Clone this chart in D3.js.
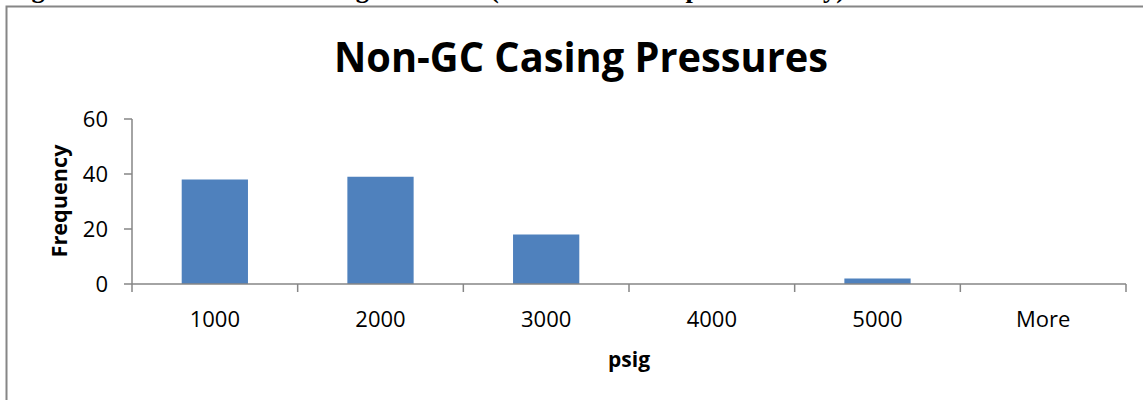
<!DOCTYPE html>
<html>

<head>
    <meta charset="utf-8">
    <style>
        body {
            margin: 0;
            background: white;
        }

        svg {
            display: block;
            font-family: 'Open Sans', 'Noto Sans', sans-serif;
        }
    </style>
</head>

<body>
    <svg width="1143" height="400"></svg>
</body>

<script src="https://d3js.org/d3.v7.min.js"></script>

<script>
    // histogram bins and counts
    let bins = ["1000", "2000", "3000", "4000", "5000", "More"]
    let counts = [38, 39, 18, 0, 2, 0]
    let yTicks = [0, 20, 40, 60]

    let svg = d3.select("svg")

    // plot edges (note: "top" clashes with window.top)
    let plotLeft = 132, plotRight = 1126, plotTop = 119, plotBottom = 284

    // caption from the page above, mostly cut off
    svg.append("text")
        .attr("x", 8)
        .attr("y", -2)
        .attr("textLength", 837)
        .attr("lengthAdjust", "spacingAndGlyphs")
        .style("font-family", "'Liberation Serif', 'DejaVu Serif', serif")
        .style("font-weight", "bold")
        .style("font-size", "26px")
        .text("Figure 5: Distribution of Casing Pressures (Non-Green Completions Only)")

    // chart frame
    svg.append("rect")
        .attr("x", 6.5)
        .attr("y", 6.5)
        .attr("width", 1200)
        .attr("height", 500)
        .attr("fill", "white")
        .attr("stroke", "#868686")
        .attr("stroke-width", 2)

    let x = d3.scaleBand()
        .domain(bins)
        .range([plotLeft, plotRight])
        .paddingInner(0.6)
        .paddingOuter(0.3)

    let xEdges = d3.scaleBand()
        .domain(bins)
        .range([plotLeft, plotRight])

    let y = d3.scaleLinear()
        .domain([0, 60])
        .range([plotBottom, plotTop])

    svg.append("text")
        .attr("x", 581)
        .attr("y", 72)
        .attr("text-anchor", "middle")
        .attr("textLength", 494)
        .attr("lengthAdjust", "spacingAndGlyphs")
        .style("font-weight", "bold")
        .style("font-size", "42px")
        .text("Non-GC Casing Pressures")

    // bars
    svg.append("g")
        .selectAll("rect")
        .data(bins)
        .join("rect")
        .attr("x", d => x(d))
        .attr("width", x.bandwidth())
        .attr("y", (d, i) => y(counts[i]))
        .attr("height", (d, i) => plotBottom - y(counts[i]))
        .attr("fill", "#4F81BD")

    // y axis
    let yAxis = svg.append("g")
    yAxis.append("line")
        .attr("x1", plotLeft).attr("x2", plotLeft)
        .attr("y1", y(60)).attr("y2", plotBottom)
        .attr("stroke", "#868686")
        .attr("stroke-width", 1.5)
    yAxis.selectAll("line.tick")
        .data(yTicks)
        .join("line")
        .attr("class", "tick")
        .attr("x1", plotLeft - 8).attr("x2", plotLeft)
        .attr("y1", d => y(d)).attr("y2", d => y(d))
        .attr("stroke", "#868686")
        .attr("stroke-width", 1.5)
    yAxis.selectAll("text")
        .data(yTicks)
        .join("text")
        .attr("x", 108)
        .attr("y", d => y(d) + 8)
        .attr("text-anchor", "end")
        .style("font-size", "22px")
        .text(d => d)

    // x axis
    let xAxis = svg.append("g")
    xAxis.append("line")
        .attr("x1", plotLeft).attr("x2", plotRight)
        .attr("y1", plotBottom).attr("y2", plotBottom)
        .attr("stroke", "#868686")
        .attr("stroke-width", 1.5)
    xAxis.selectAll("line.tick")
        .data(bins.map(d => xEdges(d)).concat([plotRight]))
        .join("line")
        .attr("class", "tick")
        .attr("x1", d => d).attr("x2", d => d)
        .attr("y1", plotBottom).attr("y2", plotBottom + 8)
        .attr("stroke", "#868686")
        .attr("stroke-width", 1.5)
    xAxis.selectAll("text")
        .data(bins)
        .join("text")
        .attr("x", d => xEdges(d) + xEdges.bandwidth() / 2)
        .attr("y", 327)
        .attr("text-anchor", "middle")
        .style("font-size", "22px")
        .text(d => d)

    // axis titles
    svg.append("text")
        .attr("x", 629)
        .attr("y", 367)
        .attr("text-anchor", "middle")
        .style("font-weight", "bold")
        .style("font-size", "21px")
        .text("psig")

    svg.append("text")
        .attr("transform", "translate(67,201) rotate(-90)")
        .attr("text-anchor", "middle")
        .attr("textLength", 113)
        .attr("lengthAdjust", "spacingAndGlyphs")
        .style("font-weight", "bold")
        .style("font-size", "22px")
        .text("Frequency")
</script>

</html>
